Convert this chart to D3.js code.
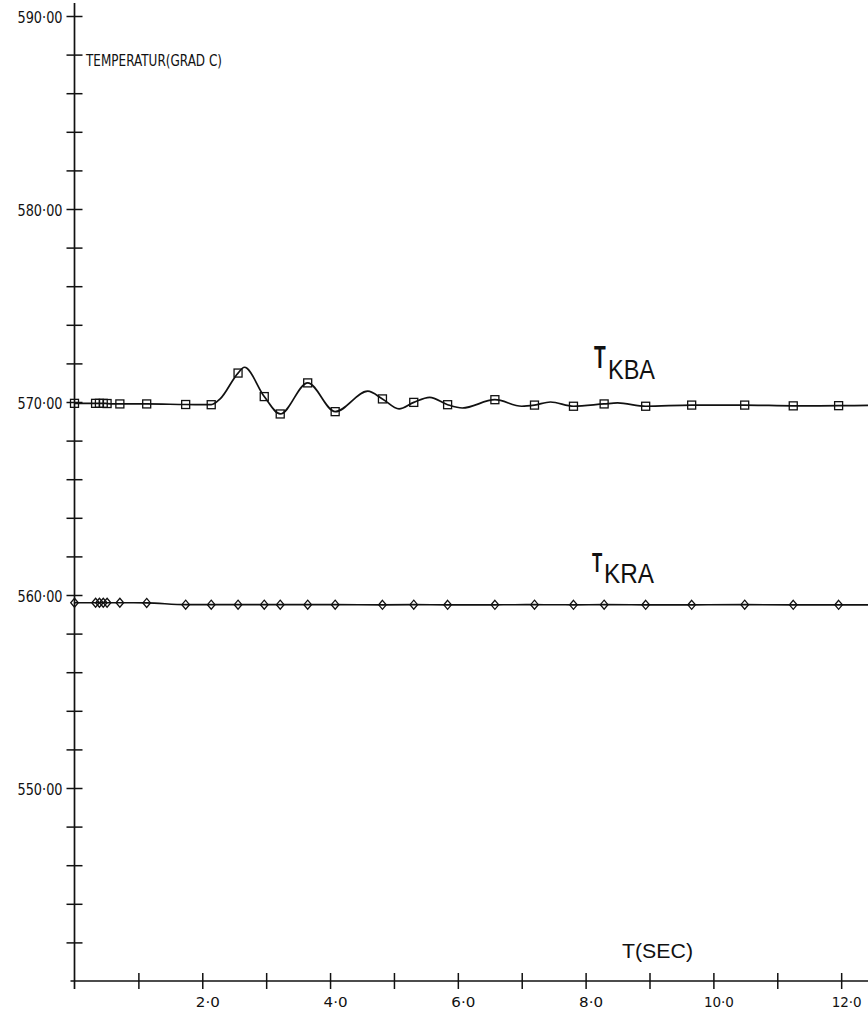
<!DOCTYPE html>
<html>
<head>
<meta charset="utf-8">
<script src="https://cdn.jsdelivr.net/npm/d3@7"></script>
<style>
  html, body { margin: 0; padding: 0; background: #fff; }
  svg { display: block; }
</style>
</head>
<body>
<svg id="chart" width="868" height="1011"></svg>
<script>
// Output times (s) of the integrator, where a marker is plotted
const markTimes = [0, 0.33, 0.39, 0.45, 0.51, 0.71, 1.13, 1.74, 2.14, 2.56, 2.97, 3.22, 3.65,
                   4.08, 4.82, 5.31, 5.84, 6.58, 7.2, 7.81, 8.29, 8.94, 9.66, 10.49, 11.25, 11.96];

// T_KBA (grad C) at the output times
const kbaMarked = [569.93, 569.93, 569.93, 569.93, 569.92, 569.90, 569.90, 569.87, 569.86, 571.50,
                   570.28, 569.38, 570.99, 569.50, 570.16, 569.98, 569.86, 570.12, 569.84, 569.78,
                   569.90, 569.78, 569.84, 569.84, 569.80, 569.81];
// T_KBA between output times (swing peaks and troughs)
const kbaCurveT = [2.28, 2.66, 4.59, 5.08, 5.56, 6.07, 7.0, 7.45, 8.5, 12.42];
const kbaCurveV = [570.16, 571.80, 570.56, 569.64, 570.24, 569.69, 569.78, 570.0, 569.95, 569.82];

// T_KRA (grad C) at the output times
const kraMarked = [559.60, 559.60, 559.60, 559.60, 559.60, 559.60, 559.59, 559.50, 559.50, 559.50,
                   559.50, 559.50, 559.50, 559.50, 559.49, 559.50, 559.49, 559.49, 559.50, 559.49,
                   559.50, 559.49, 559.49, 559.50, 559.49, 559.49];
const kraCurveT = [12.42];
const kraCurveV = [559.49];

// Axis ticks and labels
const xTicks = [1, 2, 3, 4, 5, 6, 7, 8, 9, 10, 11, 12];
const xLabeled = [2, 4, 6, 8, 10, 12];
const yTicks = d3.range(542, 591, 2);
const yLabeled = [550, 560, 570, 580, 590];

const fmtY = v => v.toFixed(2).replace(".", "\u00B7");
const fmtX = v => v.toFixed(1).replace(".", "\u00B7");

const svg = d3.select("#chart");
const ink = "#111";

const x = d3.scaleLinear().domain([0, 12.42]).range([74.5, 868]);
const y = d3.scaleLinear().domain([540, 590]).range([981, 16]);

const labelFont = "'DejaVu Sans', sans-serif";

// Y axis, ticks crossing the spine
const yAxis = svg.append("g")
  .attr("transform", `translate(${x(0)},0)`)
  .call(d3.axisLeft(y).tickValues(yTicks).tickSize(8).tickFormat(d => yLabeled.includes(d) ? fmtY(d) : ""));
yAxis.select(".domain").remove();
yAxis.selectAll(".tick line").attr("x1", 8).attr("x2", -8).attr("stroke", ink).attr("stroke-width", 1.5);
yAxis.selectAll(".tick text")
  .attr("x", -12).attr("dy", "0.38em")
  .attr("fill", ink)
  .style("font-family", labelFont).style("font-size", "16px").style("font-weight", 400)
  .attr("textLength", d => yLabeled.includes(d) ? 45 : null)
  .attr("lengthAdjust", "spacingAndGlyphs");
svg.append("line")
  .attr("x1", x(0)).attr("x2", x(0))
  .attr("y1", 3).attr("y2", 989)
  .attr("stroke", ink).attr("stroke-width", 1.7);

// X axis, ticks crossing the spine
const xAxis = svg.append("g")
  .attr("transform", `translate(0,${y(540)})`)
  .call(d3.axisBottom(x).tickValues(xTicks).tickSize(8).tickFormat(d => xLabeled.includes(d) ? fmtX(d) : ""));
xAxis.select(".domain").remove();
xAxis.selectAll(".tick line").attr("y1", -8).attr("y2", 8).attr("stroke", ink).attr("stroke-width", 1.5);
xAxis.selectAll(".tick text")
  .attr("y", 26).attr("dy", 0).attr("dx", 5)
  .attr("fill", ink)
  .style("font-family", labelFont).style("font-size", "14px").style("font-weight", 400)
  .attr("textLength", d => xLabeled.includes(d) ? (d >= 10 ? 30 : 24) : null)
  .attr("lengthAdjust", "spacingAndGlyphs");
svg.append("line")
  .attr("x1", x(0) - 4).attr("x2", 868)
  .attr("y1", y(540)).attr("y2", y(540))
  .attr("stroke", ink).attr("stroke-width", 1.7);

// Axis titles
svg.append("text")
  .attr("x", 86).attr("y", 66)
  .attr("textLength", 136).attr("lengthAdjust", "spacingAndGlyphs")
  .attr("fill", ink)
  .style("font-family", labelFont).style("font-size", "15px").style("font-weight", 400)
  .text("TEMPERATUR(GRAD C)");
svg.append("text")
  .attr("x", 622).attr("y", 958)
  .attr("textLength", 71).attr("lengthAdjust", "spacingAndGlyphs")
  .attr("fill", ink)
  .style("font-family", "'Liberation Sans', Arial, sans-serif").style("font-size", "21px")
  .text("T(SEC)");

// Curves
function seriesPoints(marked, extraT, extraV) {
  const pts = markTimes.map((t, i) => ({ t, v: marked[i] }))
    .concat(extraT.map((t, i) => ({ t, v: extraV[i] })));
  return pts.sort((a, b) => a.t - b.t);
}
const line = d3.line().x(d => x(d.t)).y(d => y(d.v)).curve(d3.curveMonotoneX);

svg.append("path")
  .datum(seriesPoints(kbaMarked, kbaCurveT, kbaCurveV))
  .attr("d", line)
  .attr("fill", "none").attr("stroke", ink).attr("stroke-width", 1.7);
svg.append("path")
  .datum(seriesPoints(kraMarked, kraCurveT, kraCurveV))
  .attr("d", line)
  .attr("fill", "none").attr("stroke", ink).attr("stroke-width", 1.6);

// Markers: squares for T_KBA, diamonds for T_KRA
svg.append("g").selectAll("rect")
  .data(markTimes.map((t, i) => ({ t, v: kbaMarked[i] })))
  .join("rect")
  .attr("x", d => x(d.t) - 4).attr("y", d => y(d.v) - 4)
  .attr("width", 8).attr("height", 8)
  .attr("fill", "none").attr("stroke", ink).attr("stroke-width", 1.3);
svg.append("g").selectAll("path")
  .data(markTimes.map((t, i) => ({ t, v: kraMarked[i] })))
  .join("path")
  .attr("d", d => {
    const cx = x(d.t), cy = y(d.v);
    return `M${cx},${cy - 4.5}L${cx + 3.8},${cy}L${cx},${cy + 4.5}L${cx - 3.8},${cy}Z`;
  })
  .attr("fill", "none").attr("stroke", ink).attr("stroke-width", 1.3);

// Curve labels: a narrow bold T followed by a lowered subscript
function curveLabel(tx, tBase, tSize, tSqueeze, sub, sx, sBase, sSize, sWidth) {
  const font = "'Liberation Sans', Arial, sans-serif";
  svg.append("text")
    .attr("transform", `translate(${tx},${tBase}) scale(${tSqueeze},1)`)
    .attr("fill", ink).style("font-family", font)
    .style("font-size", tSize + "px").style("font-weight", 700).text("T");
  svg.append("text").attr("x", sx).attr("y", sBase)
    .attr("textLength", sWidth).attr("lengthAdjust", "spacingAndGlyphs")
    .attr("fill", ink).style("font-family", font)
    .style("font-size", sSize + "px").text(sub);
}
curveLabel(594, 368, 32, 0.6, "KBA", 608, 379, 28, 47);
curveLabel(592, 572, 28, 0.6, "KRA", 604, 583, 27, 50);
</script>
</body>
</html>
